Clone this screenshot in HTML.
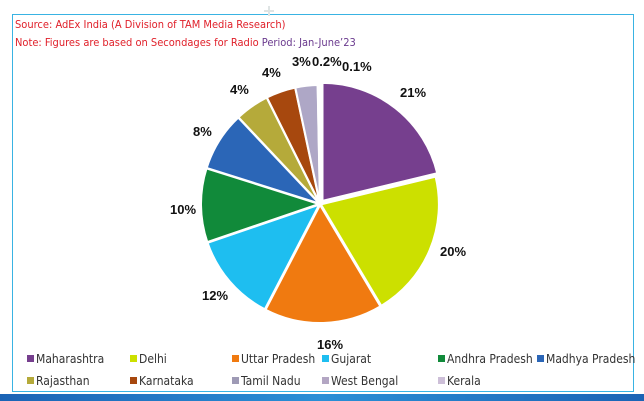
<!DOCTYPE html>
<html><head><style>
body{margin:0;width:644px;height:401px;background:#fff;position:relative;overflow:hidden;font-family:"DejaVu Sans Condensed","Liberation Sans",sans-serif}
.frame{position:absolute;left:12px;top:14px;width:622px;height:378px;border:1px solid #39b3e3;box-sizing:border-box}
.bar{position:absolute;left:0;top:394px;width:644px;height:7px;background:linear-gradient(90deg,#1b63b5,#2a8fd6,#1b63b5)}
.t{position:absolute;font-size:11px;color:#e0202a;white-space:nowrap}
.lbl{font-family:"Liberation Sans",sans-serif;font-weight:bold;font-size:13px;fill:#111}
.lg{position:absolute;font-size:12px;color:#333;white-space:nowrap}
.lg i{display:inline-block;width:7px;height:7px;margin-right:2px;vertical-align:1px}
</style></head><body>
<div class="frame"></div>
<div class="bar"></div>
<div class="t" style="left:15px;top:18px">Source: AdEx India (A Division of TAM Media Research)</div>
<div class="t" style="left:15px;top:36px">Note: Figures are based on Secondages for Radio <span style="color:#6a3a8e">Period: Jan-June’23</span></div>
<svg id="s" width="644" height="401" style="position:absolute;left:0;top:0">
<g fill="#dfe4e4"><path d="M264 10h10v2h-10zM268 6h2v10h-2z"/></g>
</svg>
<div class="lg" style="left:27px;top:352px"><i style="background:#763f8e"></i>Maharashtra</div>
<div class="lg" style="left:130px;top:352px"><i style="background:#cce000"></i>Delhi</div>
<div class="lg" style="left:232px;top:352px"><i style="background:#f07a10"></i>Uttar Pradesh</div>
<div class="lg" style="left:322px;top:352px"><i style="background:#1ebef0"></i>Gujarat</div>
<div class="lg" style="left:438px;top:352px"><i style="background:#118a3a"></i>Andhra Pradesh</div>
<div class="lg" style="left:537px;top:352px"><i style="background:#2b66b7"></i>Madhya Pradesh</div>
<div class="lg" style="left:27px;top:374px"><i style="background:#b5aa3a"></i>Rajasthan</div>
<div class="lg" style="left:130px;top:374px"><i style="background:#a7480e"></i>Karnataka</div>
<div class="lg" style="left:232px;top:374px"><i style="background:#9e9ab5"></i>Tamil Nadu</div>
<div class="lg" style="left:322px;top:374px"><i style="background:#b3a6c3"></i>West Bengal</div>
<div class="lg" style="left:438px;top:374px"><i style="background:#cdbfd8"></i>Kerala</div>
<script>
var v=[21,20,16,12,10,8,4.6,4,3,0.2,0.1];
var c=["#763f8e","#cce000","#f07a10","#1ebef0","#118a3a","#2b66b7","#b5aa3a","#a7480e","#aea7c6","#b9a6c9","#d6c8de"];
var tot=v.reduce((a,b)=>a+b),cx=320,cy=204,r=118,a=0,s=document.getElementById('s'),h='';
v.forEach(function(x,i){var a1=a,a2=a+x/tot*2*Math.PI,m=(a1+a2)/2,o=i==0?4:1;
var ox=cx+o*Math.sin(m),oy=cy-o*Math.cos(m);
var p=(t)=>[(ox+r*Math.sin(t)).toFixed(1),(oy-r*Math.cos(t)).toFixed(1)];
var P1=p(a1),P2=p(a2);
h+='<path d="M'+ox.toFixed(1)+' '+oy.toFixed(1)+'L'+P1+'A'+r+' '+r+' 0 '+((a2-a1)>Math.PI?1:0)+' 1 '+P2+'Z" fill="'+c[i]+'" stroke="#fff" stroke-width="2"/>';
a=a2;});
var L=[["21%",400,97],["20%",440,256],["16%",317,349],["12%",202,300],["10%",170,214],["8%",193,136],["4%",230,94],["4%",262,77],["3%",292,66],["0.2%",312,66],["0.1%",342,71]];
L.forEach(function(l){h+='<text class="lbl" x="'+l[1]+'" y="'+l[2]+'">'+l[0]+'</text>';});
s.innerHTML+=h;
</script>
</body></html>
